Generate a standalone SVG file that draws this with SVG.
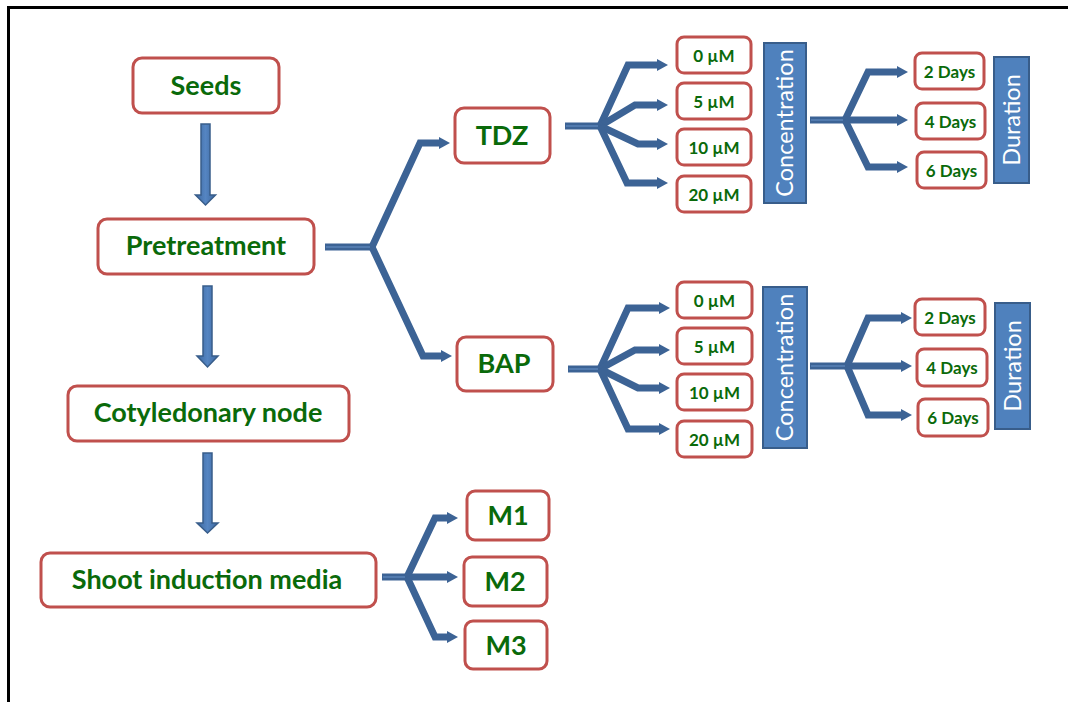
<svg xmlns="http://www.w3.org/2000/svg" width="1068" height="702" viewBox="0 0 1068 702">
  <defs>
    <style>
      .box { fill: #ffffff; stroke: #C0504D; stroke-width: 3; }
      .lbl { font-family: Lato, "Open Sans", "Liberation Sans", sans-serif; font-weight: bold; fill: #0A6A0A; text-anchor: middle; }
      .big { font-size: 27px; }
      .small { font-size: 17px; }
      .bar { fill: #4F81BD; stroke: #385D8A; stroke-width: 2; }
      .barText { font-family: Lato, "Open Sans", "Liberation Sans", sans-serif; font-size: 23.5px; fill: #ffffff; text-anchor: middle; }
      .conn { fill: none; stroke: #3C6395; stroke-width: 7; stroke-linejoin: miter; }
      .connHi { fill: none; stroke: #5A84B8; stroke-width: 1.5; }
      .down { fill: url(#downFill); stroke: #385D8A; stroke-width: 1.5; }
    </style>
    <linearGradient id="downFill" x1="0" y1="0" x2="1" y2="0">
      <stop offset="0" stop-color="#3D68A0"/>
      <stop offset="0.5" stop-color="#5585C2"/>
      <stop offset="1" stop-color="#3D68A0"/>
    </linearGradient>
    <marker id="head" markerUnits="userSpaceOnUse" markerWidth="12" markerHeight="14" refX="2" refY="7" orient="auto">
      <path d="M0,1 L11,7 L0,13 Z" fill="#3C6395"/>
    </marker>
  </defs>

  <rect width="1068" height="702" fill="#ffffff"/>

  <!-- outer frame (top and left edges) -->
  <path d="M8.5,702 V7.5 H1068" fill="none" stroke="#000000" stroke-width="3"/>

  <!-- connectors -->
  <g id="connectors">
    <!-- vertical block arrows -->
    <path class="down" d="M201,124 H210 V195 H215.5 L205.5,205 L195.5,195 H201 Z"/>
    <path class="down" d="M203,286 H212 V356 H218 L207.5,367 L197,356 H203 Z"/>
    <path class="down" d="M203,453 H212 V523 H218 L207.5,533 L197,523 H203 Z"/>

    <!-- Pretreatment split -->
    <path class="conn" d="M325,247 H372"/>
    <path class="conn" marker-end="url(#head)" d="M372,247 L420,143 H441"/>
    <path class="conn" marker-end="url(#head)" d="M372,247 L423,356 H443"/>

    <!-- TDZ concentrations -->
    <path class="conn" d="M565,126 H600"/>
    <path class="conn" marker-end="url(#head)" d="M600,126 L628,65 H659"/>
    <path class="conn" marker-end="url(#head)" d="M600,126 L635,105 H659"/>
    <path class="conn" marker-end="url(#head)" d="M600,126 L638,144 H659"/>
    <path class="conn" marker-end="url(#head)" d="M600,126 L627,183 H659"/>

    <!-- TDZ durations -->
    <path class="conn" d="M810,120 H845"/>
    <path class="conn" marker-end="url(#head)" d="M845,120 L868,72 H899"/>
    <path class="conn" marker-end="url(#head)" d="M845,120 H899"/>
    <path class="conn" marker-end="url(#head)" d="M845,120 L868,167 H899"/>

    <!-- BAP concentrations -->
    <path class="conn" d="M568,369 H600"/>
    <path class="conn" marker-end="url(#head)" d="M600,369 L628,308 H661"/>
    <path class="conn" marker-end="url(#head)" d="M600,369 L635,350 H661"/>
    <path class="conn" marker-end="url(#head)" d="M600,369 L638,388 H661"/>
    <path class="conn" marker-end="url(#head)" d="M600,369 L628,429 H661"/>

    <!-- BAP durations -->
    <path class="conn" d="M810,366 H847"/>
    <path class="conn" marker-end="url(#head)" d="M847,366 L868,318 H903"/>
    <path class="conn" marker-end="url(#head)" d="M847,366 H903"/>
    <path class="conn" marker-end="url(#head)" d="M847,366 L868,415 H903"/>

    <!-- Shoot induction media split -->
    <path class="conn" d="M382,577 H407"/>
    <path class="conn" marker-end="url(#head)" d="M407,577 L435,518 H449"/>
    <path class="conn" marker-end="url(#head)" d="M407,577 H449"/>
    <path class="conn" marker-end="url(#head)" d="M407,577 L435,637 H449"/>

    <!-- light centre stripe on the stubs -->
    <path class="connHi" d="M326,247 H370 M566,126 H598 M569,369 H598 M811,120 H843 M811,366 H845 M383,577 H405"/>
  </g>

  <!-- main column -->
  <g id="seeds">
    <rect class="box" x="133" y="58" width="146" height="55" rx="9"/>
    <text class="lbl big" x="206" y="95">Seeds</text>
  </g>
  <g id="pretreatment">
    <rect class="box" x="98" y="219" width="216" height="55" rx="9"/>
    <text class="lbl big" x="206" y="255">Pretreatment</text>
  </g>
  <g id="cotyledonary-node">
    <rect class="box" x="68" y="386" width="281" height="55" rx="9"/>
    <text class="lbl big" x="208" y="422">Cotyledonary node</text>
  </g>
  <g id="shoot-induction-media">
    <rect class="box" x="41" y="553" width="335" height="54" rx="9"/>
    <text class="lbl big" x="207" y="589">Shoot induction media</text>
  </g>

  <!-- growth regulators -->
  <g id="tdz">
    <rect class="box" x="455" y="108" width="95" height="55" rx="9"/>
    <text class="lbl big" x="502" y="145">TDZ</text>
  </g>
  <g id="bap">
    <rect class="box" x="457" y="337" width="96" height="54" rx="9"/>
    <text class="lbl big" x="504" y="373">BAP</text>
  </g>

  <!-- media -->
  <g id="m1">
    <rect class="box" x="467" y="491" width="82" height="49" rx="8"/>
    <text class="lbl big" x="508" y="525">M1</text>
  </g>
  <g id="m2">
    <rect class="box" x="464" y="557" width="83" height="49" rx="8"/>
    <text class="lbl big" x="505" y="591">M2</text>
  </g>
  <g id="m3">
    <rect class="box" x="465" y="621" width="82" height="48" rx="8"/>
    <text class="lbl big" x="506" y="655">M3</text>
  </g>

  <!-- TDZ concentrations -->
  <g id="tdz-0">
    <rect class="box" x="677" y="37" width="74" height="36" rx="7"/>
    <text class="lbl small" x="714" y="62">0 µM</text>
  </g>
  <g id="tdz-5">
    <rect class="box" x="677" y="83" width="74" height="36" rx="7"/>
    <text class="lbl small" x="714" y="108">5 µM</text>
  </g>
  <g id="tdz-10">
    <rect class="box" x="677" y="129" width="74" height="36" rx="7"/>
    <text class="lbl small" x="714" y="154">10 µM</text>
  </g>
  <g id="tdz-20">
    <rect class="box" x="677" y="176" width="74" height="36" rx="7"/>
    <text class="lbl small" x="714" y="201">20 µM</text>
  </g>
  <g id="tdz-concentration">
    <rect class="bar" x="764" y="43" width="42" height="160"/>
    <text class="barText" transform="translate(785,123) rotate(-90)" y="8">Concentration</text>
  </g>

  <!-- TDZ durations -->
  <g id="tdz-2d">
    <rect class="box" x="915" y="53" width="69" height="36" rx="7"/>
    <text class="lbl small" x="949.5" y="78">2 Days</text>
  </g>
  <g id="tdz-4d">
    <rect class="box" x="916" y="103" width="69" height="36" rx="7"/>
    <text class="lbl small" x="950.5" y="128">4 Days</text>
  </g>
  <g id="tdz-6d">
    <rect class="box" x="917" y="152" width="69" height="36" rx="7"/>
    <text class="lbl small" x="951.5" y="177">6 Days</text>
  </g>
  <g id="tdz-duration">
    <rect class="bar" x="994" y="57" width="35" height="126"/>
    <text class="barText" transform="translate(1011.5,120) rotate(-90)" y="8">Duration</text>
  </g>

  <!-- BAP concentrations -->
  <g id="bap-0">
    <rect class="box" x="677" y="282" width="75" height="36" rx="7"/>
    <text class="lbl small" x="714.5" y="307">0 µM</text>
  </g>
  <g id="bap-5">
    <rect class="box" x="677" y="328" width="75" height="36" rx="7"/>
    <text class="lbl small" x="714.5" y="353">5 µM</text>
  </g>
  <g id="bap-10">
    <rect class="box" x="677" y="374" width="75" height="36" rx="7"/>
    <text class="lbl small" x="714.5" y="399">10 µM</text>
  </g>
  <g id="bap-20">
    <rect class="box" x="677" y="421" width="75" height="36" rx="7"/>
    <text class="lbl small" x="714.5" y="446">20 µM</text>
  </g>
  <g id="bap-concentration">
    <rect class="bar" x="763" y="287" width="44" height="161"/>
    <text class="barText" transform="translate(785,367.5) rotate(-90)" y="8">Concentration</text>
  </g>

  <!-- BAP durations -->
  <g id="bap-2d">
    <rect class="box" x="915" y="299" width="70" height="36" rx="7"/>
    <text class="lbl small" x="950" y="324">2 Days</text>
  </g>
  <g id="bap-4d">
    <rect class="box" x="917" y="349" width="70" height="37" rx="7"/>
    <text class="lbl small" x="952" y="374">4 Days</text>
  </g>
  <g id="bap-6d">
    <rect class="box" x="918" y="399" width="70" height="37" rx="7"/>
    <text class="lbl small" x="953" y="424">6 Days</text>
  </g>
  <g id="bap-duration">
    <rect class="bar" x="995" y="303" width="35" height="126"/>
    <text class="barText" transform="translate(1012.5,366) rotate(-90)" y="8">Duration</text>
  </g>
</svg>
